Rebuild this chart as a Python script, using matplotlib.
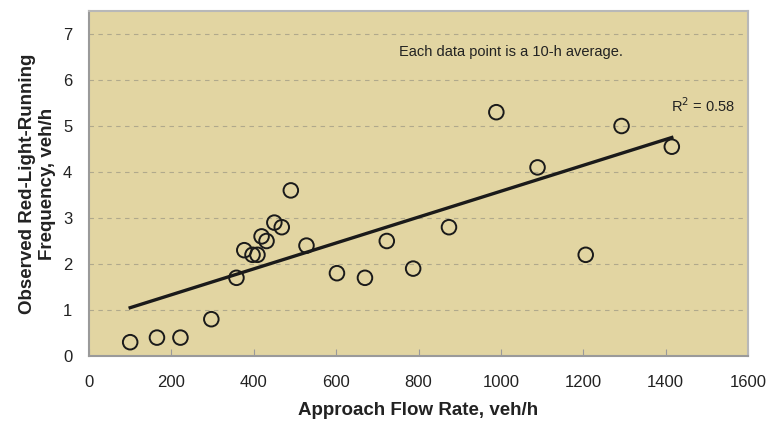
import matplotlib
matplotlib.use("Agg")
import matplotlib.pyplot as plt
import numpy as np

# Approach flow (veh/h) and observed red-light-running frequency (veh/h)
flow_rate = [100, 165, 222, 297, 358, 377, 397, 409, 419, 431, 450, 468,
             490, 528, 602, 670, 723, 787, 874, 989, 1089, 1206, 1293, 1415]
rlr_freq = [0.3, 0.4, 0.4, 0.8, 1.7, 2.3, 2.2, 2.2, 2.6, 2.5, 2.9, 2.8,
            3.6, 2.4, 1.8, 1.7, 2.5, 1.9, 2.8, 5.3, 4.1, 2.2, 5.0, 4.55]

# trend line end points as drawn in the original
trend_x = [100, 1415]
trend_y = [1.05, 4.75]

x_ticks = [0, 200, 400, 600, 800, 1000, 1200, 1400, 1600]
y_ticks = [0, 1, 2, 3, 4, 5, 6, 7]

BG = "#E2D5A2"
SPINE = "#9a9a9a"

plt.rcParams["font.family"] = ["Liberation Sans", "DejaVu Sans"]

fig = plt.figure(figsize=(7.81, 4.23), dpi=100)
ax = fig.add_axes([89 / 781, 1 - 356 / 423, (748 - 89) / 781, (356 - 11) / 423])
ax.set_facecolor(BG)

for yv in y_ticks[1:]:
    ax.axhline(yv, color="#b0a98c", lw=0.8, ls=(0, (4, 4)), zorder=1)

ax.plot(trend_x, trend_y, color="#1a1a1a", lw=2.4, zorder=2)
ax.scatter(flow_rate, rlr_freq, s=110, facecolors="none", edgecolors="#1a1a1a",
           linewidths=1.4, zorder=3)

ax.set_xlim(0, 1600)
ax.set_ylim(0, 7.5)
ax.set_xticks(x_ticks)
ax.set_yticks(y_ticks)
ax.tick_params(axis="x", direction="in", length=5, color=SPINE, pad=14,
               labelsize=12, labelcolor="#222222")
ax.tick_params(axis="y", length=0, pad=12, labelsize=12, labelcolor="#222222")

for side in ["left", "bottom"]:
    ax.spines[side].set_color(SPINE)
    ax.spines[side].set_linewidth(1.5)
for side in ["top", "right"]:
    ax.spines[side].set_color("#b8b8b8")
    ax.spines[side].set_linewidth(1.5)

ax.set_xlabel("Approach Flow Rate, veh/h", fontsize=13.5, fontweight="bold",
              color="#222222", labelpad=8)
ax.set_ylabel("Observed Red-Light-Running\nFrequency, veh/h", fontsize=13.5,
              fontweight="bold", color="#222222", labelpad=5, linespacing=1.2)

ax.text(1025, 6.6, "Each data point is a 10-h average.", ha="center", va="center",
        fontsize=10.5, color="#222222")
ax.text(1570, 5.45, "R$^2$ = 0.58", ha="right", va="center", fontsize=10.5,
        color="#222222")

fig.savefig("out.png", dpi=100)
